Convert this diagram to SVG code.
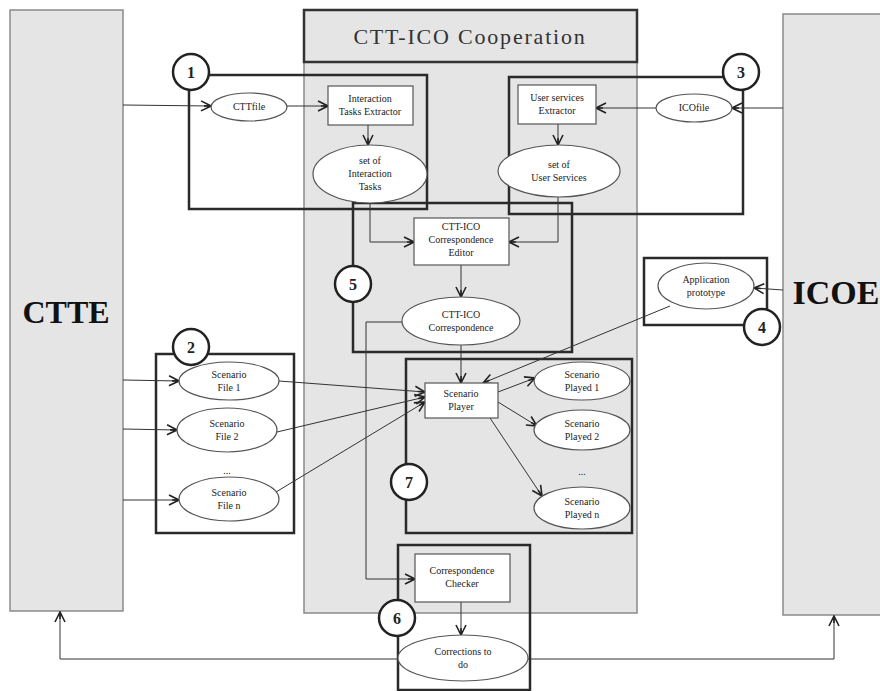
<svg xmlns="http://www.w3.org/2000/svg" width="880" height="691" viewBox="0 0 880 691">
<defs>
<style>
.panel{fill:#e5e5e5;stroke:#8a8a8a;stroke-width:1.5}
.grp{fill:none;stroke:#2a2a2a;stroke-width:2.5}
.node{fill:#fff;stroke:#555;stroke-width:1.2}
.conn{fill:none;stroke:#333;stroke-width:1}
.num{fill:#fff;stroke:#222;stroke-width:2.5}
text{font-family:"Liberation Serif","DejaVu Serif",serif;fill:#222;text-anchor:middle}
.t{font-size:10px}
.n{font-size:16px;font-weight:bold}
.big{font-size:32px;font-weight:bold;fill:#111}
</style>
<marker id="arr" viewBox="0 0 12 12" refX="11" refY="6" markerWidth="12" markerHeight="12" markerUnits="userSpaceOnUse" orient="auto">
<path d="M1,1 L11,6 L1,11 M4,6 L11,6" fill="none" stroke="#222" stroke-width="1.6"/>
</marker>
</defs>

<g id="panels">
<rect id="ctte" class="panel" x="10" y="10" width="113" height="601"/>
<text class="big" x="66" y="323">CTTE</text>
<rect id="center" class="panel" x="304" y="10" width="333" height="603"/>
<rect id="title" x="304" y="10" width="333" height="52" fill="#e5e5e5" stroke="#333" stroke-width="2.5"/>
<text x="470" y="44" style="font-size:22px;letter-spacing:1.8px;fill:#333">CTT-ICO Cooperation</text>
<rect id="icoe" class="panel" x="783" y="14" width="100" height="601"/>
<text class="big" x="836" y="304" style="font-size:34px">ICOE</text>
</g>

<g id="groups">
<rect id="box1" class="grp" x="189" y="75" width="238" height="134"/>
<rect id="box3" class="grp" x="509" y="77" width="234" height="137"/>
<rect id="box5" class="grp" x="353" y="203" width="219" height="149"/>
<rect id="box4" class="grp" x="644" y="258" width="123" height="67"/>
<rect id="box2" class="grp" x="156" y="354" width="138" height="179"/>
<rect id="box7" class="grp" x="406" y="359" width="226" height="174"/>
<rect id="box6" class="grp" x="398" y="545" width="132" height="145"/>
</g>

<g id="connectors">
<path class="conn" marker-end="url(#arr)" d="M123,105 L211,106"/>
<path class="conn" marker-end="url(#arr)" d="M287,106 L328,106"/>
<path class="conn" marker-end="url(#arr)" d="M368,125 L368,145"/>
<path class="conn" marker-end="url(#arr)" d="M783,108 L732,108"/>
<path class="conn" marker-end="url(#arr)" d="M656,108 L596,108"/>
<path class="conn" marker-end="url(#arr)" d="M558,124 L558,145"/>
<path class="conn" marker-end="url(#arr)" d="M370,203 L370,242 L414,242"/>
<path class="conn" marker-end="url(#arr)" d="M558,197 L558,242 L509,242"/>
<path class="conn" marker-end="url(#arr)" d="M461,265 L461,297"/>
<path class="conn" marker-end="url(#arr)" d="M461,345 L461,383"/>
<path class="conn" marker-end="url(#arr)" d="M402,322 L366,322 L366,579 L415,579"/>
<path class="conn" marker-end="url(#arr)" d="M123,380 L179,381"/>
<path class="conn" marker-end="url(#arr)" d="M123,429 L177,430"/>
<path class="conn" marker-end="url(#arr)" d="M123,500 L179,500"/>
<path class="conn" marker-end="url(#arr)" d="M279,381 L425,392"/>
<path class="conn" marker-end="url(#arr)" d="M277,432 L425,397"/>
<path class="conn" marker-end="url(#arr)" d="M276,492 L425,402"/>
<path class="conn" marker-end="url(#arr)" d="M670,306 L483,383"/>
<path class="conn" marker-end="url(#arr)" d="M783,290 L754,288"/>
<path class="conn" marker-end="url(#arr)" d="M498,392 L535,378"/>
<path class="conn" marker-end="url(#arr)" d="M498,402 L537,426"/>
<path class="conn" marker-end="url(#arr)" d="M490,418 L542,496"/>
<path class="conn" marker-end="url(#arr)" d="M461,602 L461,635"/>
<path class="conn" marker-end="url(#arr)" d="M400,659 L60,659 L60,612"/>
<path class="conn" marker-end="url(#arr)" d="M526,659 L834,659 L834,616"/>
</g>

<g id="cttfile"><ellipse class="node" cx="249" cy="107" rx="38" ry="14"/><text class="t" x="249" y="110">CTTfile</text></g>
<g id="ite"><rect class="node" x="328" y="86" width="85" height="39"/><text class="t" x="370" y="102">Interaction</text><text class="t" x="370" y="115">Tasks Extractor</text></g>
<g id="setit"><ellipse class="node" cx="370" cy="174" rx="57" ry="29"/><text class="t" x="370" y="164">set of</text><text class="t" x="370" y="177">Interaction</text><text class="t" x="370" y="190">Tasks</text></g>
<g id="icofile"><ellipse class="node" cx="694" cy="108" rx="38" ry="14"/><text class="t" x="694" y="111">ICOfile</text></g>
<g id="use"><rect class="node" x="518" y="85" width="78" height="39"/><text class="t" x="557" y="101">User services</text><text class="t" x="557" y="114">Extractor</text></g>
<g id="setus"><ellipse class="node" cx="559" cy="171" rx="61" ry="26"/><text class="t" x="559" y="168">set of</text><text class="t" x="559" y="181">User Services</text></g>
<g id="editor"><rect class="node" x="414" y="218" width="95" height="47"/><text class="t" x="461" y="230">CTT-ICO</text><text class="t" x="461" y="243">Correspondence</text><text class="t" x="461" y="256">Editor</text></g>
<g id="corr"><ellipse class="node" cx="461" cy="321" rx="59" ry="24"/><text class="t" x="461" y="318">CTT-ICO</text><text class="t" x="461" y="331">Correspondence</text></g>
<g id="app"><ellipse class="node" cx="706" cy="286" rx="48" ry="23"/><text class="t" x="706" y="283">Application</text><text class="t" x="706" y="296">prototype</text></g>
<g id="sf1"><ellipse class="node" cx="229" cy="381" rx="50" ry="19"/><text class="t" x="229" y="378">Scenario</text><text class="t" x="229" y="391">File 1</text></g>
<g id="sf2"><ellipse class="node" cx="227" cy="430" rx="50" ry="22"/><text class="t" x="227" y="427">Scenario</text><text class="t" x="227" y="440">File 2</text></g>
<text class="t" x="227" y="474">...</text>
<g id="sfn"><ellipse class="node" cx="229" cy="499" rx="50" ry="22"/><text class="t" x="229" y="496">Scenario</text><text class="t" x="229" y="509">File n</text></g>
<g id="player"><rect class="node" x="425" y="383" width="73" height="35"/><text class="t" x="461" y="397">Scenario</text><text class="t" x="461" y="410">Player</text></g>
<g id="pl1"><ellipse class="node" cx="582" cy="381" rx="48" ry="19"/><text class="t" x="582" y="378">Scenario</text><text class="t" x="582" y="391">Played 1</text></g>
<g id="pl2"><ellipse class="node" cx="582" cy="430" rx="48" ry="20"/><text class="t" x="582" y="427">Scenario</text><text class="t" x="582" y="440">Played 2</text></g>
<text class="t" x="582" y="475">...</text>
<g id="pln"><ellipse class="node" cx="582" cy="508" rx="48" ry="21"/><text class="t" x="582" y="505">Scenario</text><text class="t" x="582" y="518">Played n</text></g>
<g id="checker"><rect class="node" x="415" y="554" width="95" height="48"/><text class="t" x="462" y="574">Correspondence</text><text class="t" x="462" y="587">Checker</text></g>
<g id="corrections"><ellipse class="node" cx="463" cy="658" rx="65" ry="23"/><text class="t" x="463" y="655">Corrections to</text><text class="t" x="463" y="668">do</text></g>

<g id="n1"><circle class="num" cx="191" cy="72" r="18"/><text class="n" x="191" y="78">1</text></g>
<g id="n3"><circle class="num" cx="741" cy="72" r="18"/><text class="n" x="741" y="78">3</text></g>
<g id="n5"><circle class="num" cx="353" cy="284" r="18"/><text class="n" x="353" y="290">5</text></g>
<g id="n4"><circle class="num" cx="762" cy="327" r="18"/><text class="n" x="762" y="333">4</text></g>
<g id="n2"><circle class="num" cx="191" cy="347" r="18"/><text class="n" x="191" y="353">2</text></g>
<g id="n7"><circle class="num" cx="409" cy="482" r="18"/><text class="n" x="409" y="488">7</text></g>
<g id="n6"><circle class="num" cx="397" cy="618" r="18"/><text class="n" x="397" y="624">6</text></g>
</svg>
